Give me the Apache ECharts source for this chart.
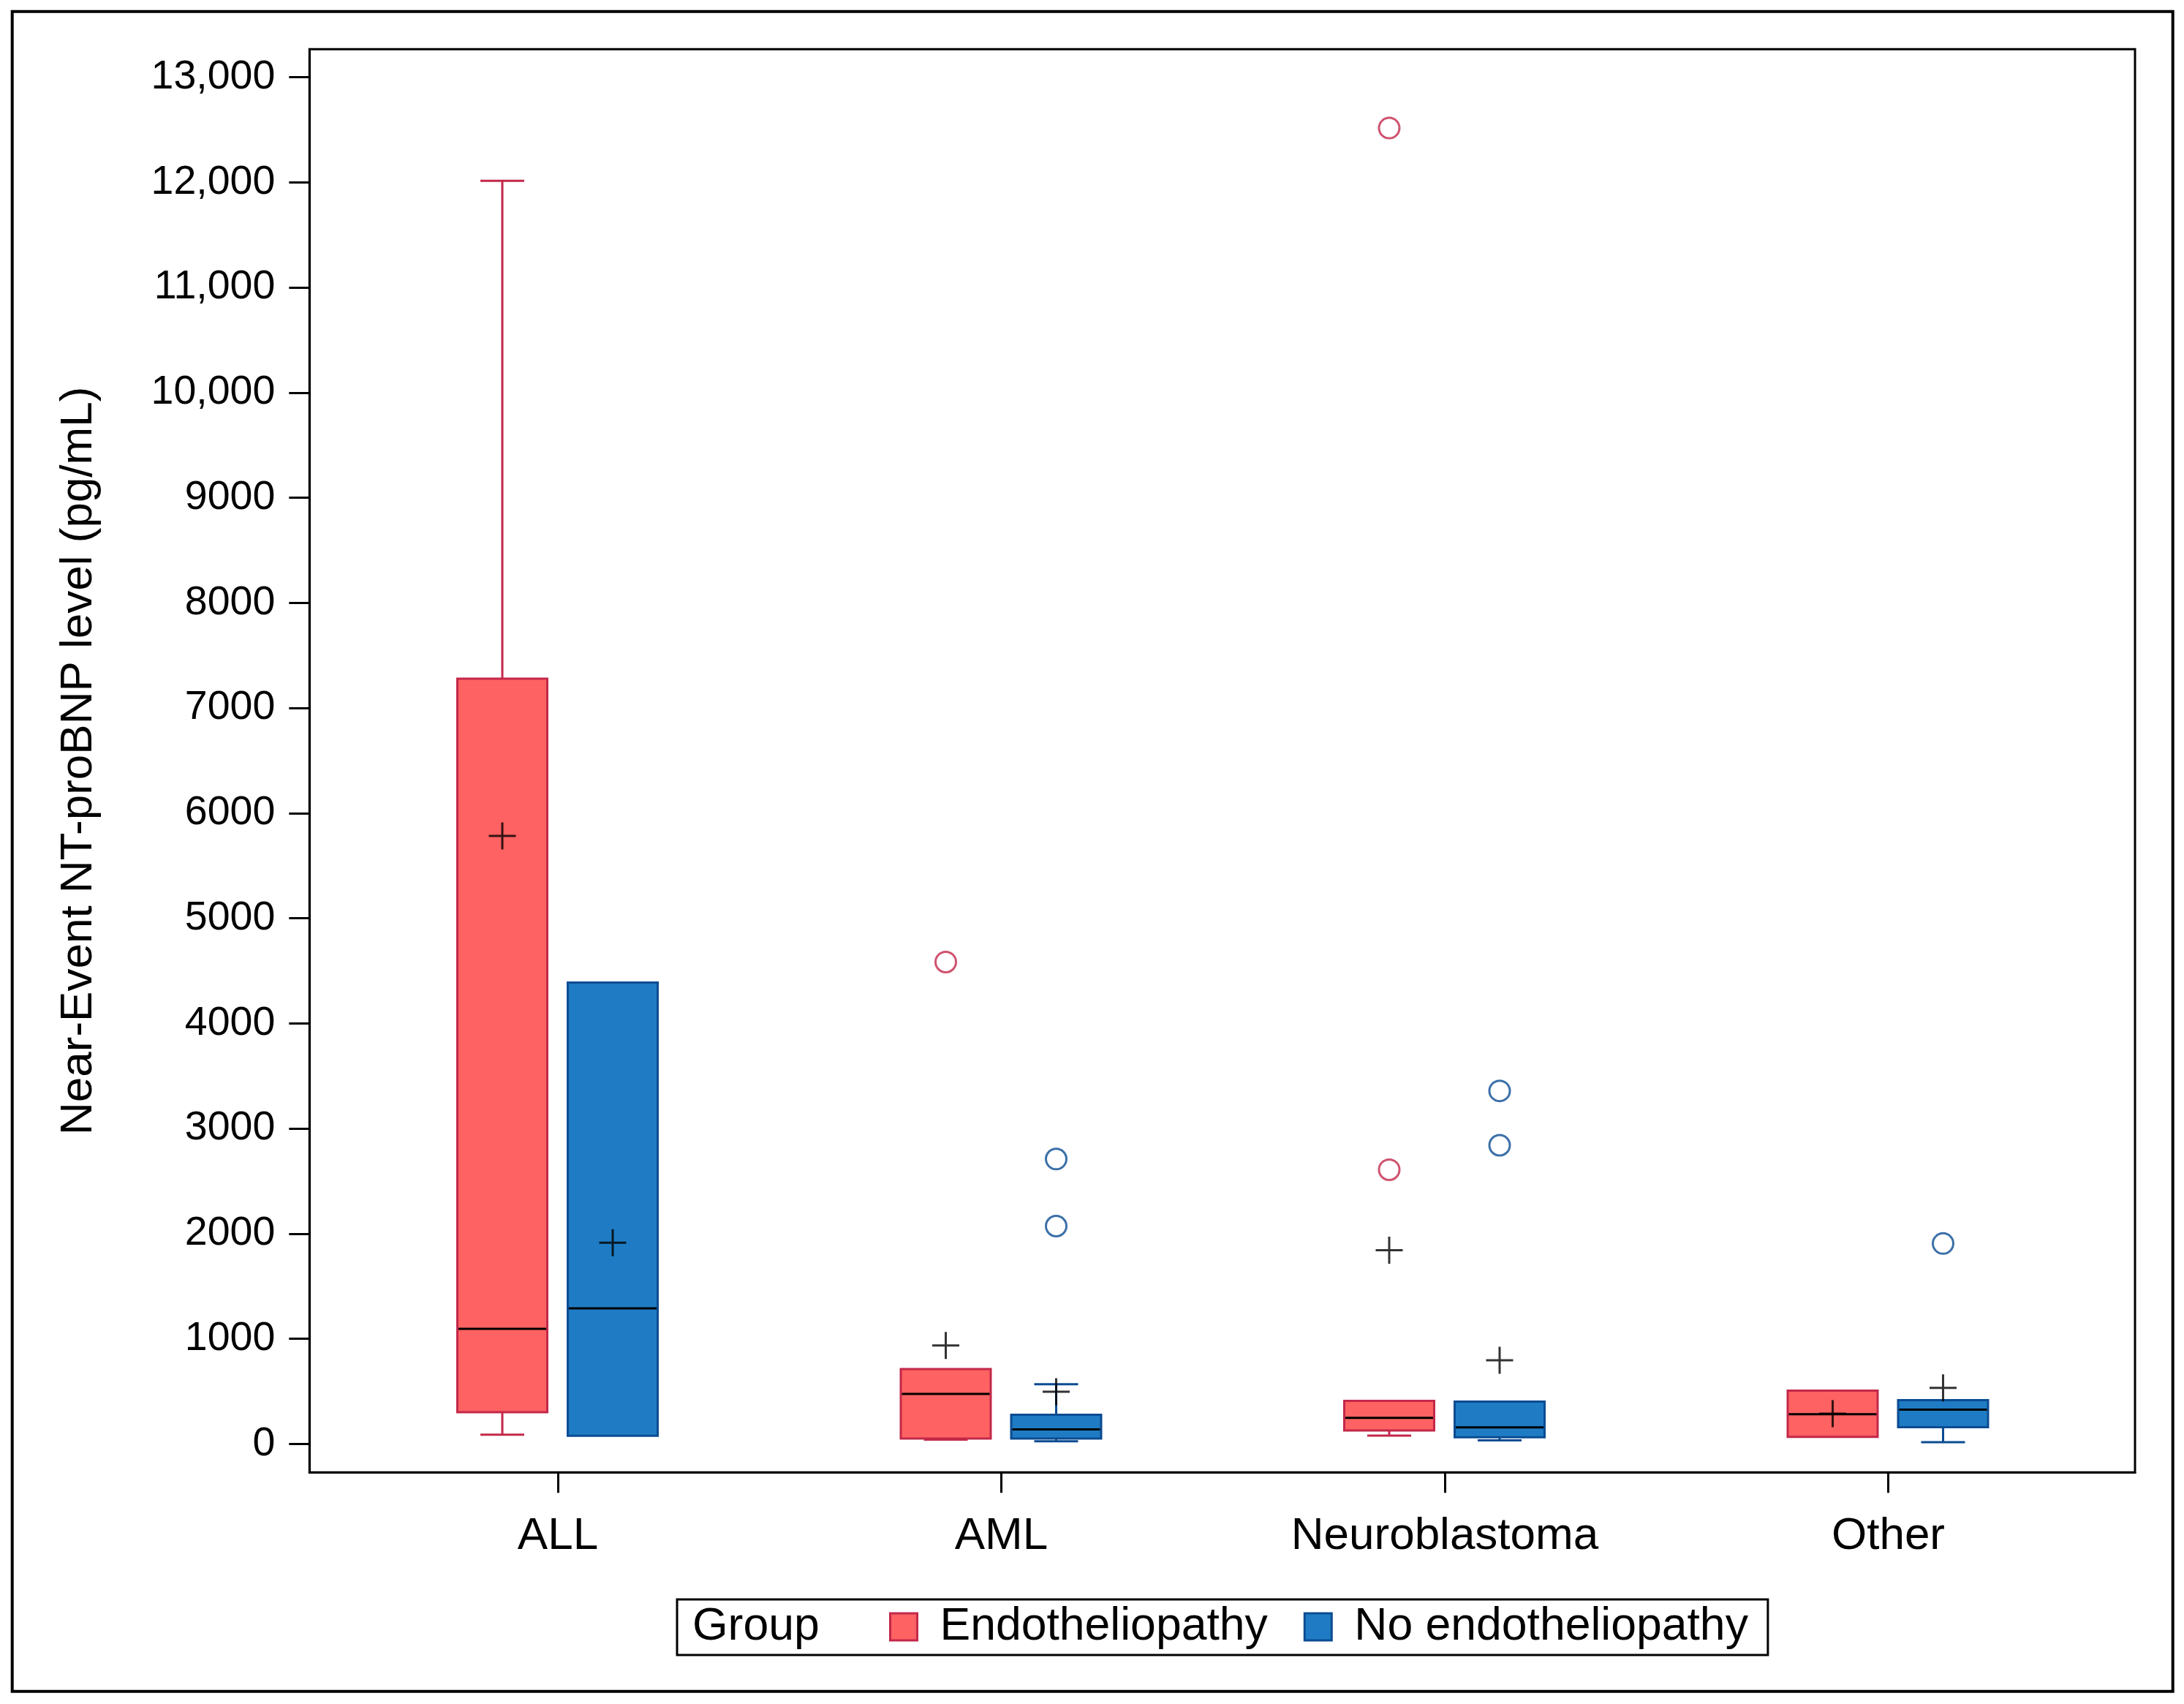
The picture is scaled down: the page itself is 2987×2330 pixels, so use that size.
<!DOCTYPE html>
<html>
<head>
<meta charset="utf-8">
<script src="https://cdn.jsdelivr.net/npm/echarts@6/dist/echarts.min.js"></script>
<style>
html,body{margin:0;padding:0;background:#ffffff;}
#chart{width:2987px;height:2330px;}
</style>
</head>
<body>
<div id="chart"></div>
<script>
// ---------------- data ----------------
const categories = ['ALL', 'AML', 'Neuroblastoma', 'Other'];
const groupNames = ['Endotheliopathy', 'No endotheliopathy'];
// box statistics per category: [min, Q1, median, Q3, max]
const endoStats = [
  [88, 301, 1094, 7279, 12015],
  [40, 51, 475, 712, 712],
  [79, 127, 247, 410, 410],
  [66, 66, 282, 506, 506]
];
const noEndoStats = [
  [77, 77, 1290, 4389, 4389],
  [25, 51, 138, 278, 568],
  [33, 63, 157, 402, 402],
  [16, 159, 326, 416, 416]
];
const endoMeans = [5783, 937, 1842, 287];
const noEndoMeans = [1913, 496, 795, 532];
// outliers: [category index, value]
const endoOutliers = [[1, 4584], [2, 12517], [2, 2608]];
const noEndoOutliers = [[1, 2710], [1, 2072], [2, 3358], [2, 2841], [3, 1906]];
const yTicks = [0, 1000, 2000, 3000, 4000, 5000, 6000, 7000, 8000, 9000, 10000, 11000, 12000, 13000];
const yTitle = 'Near-Event NT-proBNP level (pg/mL)';
const legendTitle = 'Group';

// ---------------- style / layout ----------------
const FONT = "'Liberation Sans', Arial, Helvetica, sans-serif";
const BOX_W = 123;
const CAP_W = 60;
const OFFSET_ENDO = -76;
const OFFSET_NOENDO = 75;
const RED_FILL = '#FF6262';
const RED_LINE = '#C3284A';
const BLUE_FILL = '#1F7CC4';
const BLUE_LINE = '#0B4C92';

function boxSeries(name, stats, offset, fill, line) {
  return {
    type: 'custom',
    name: name,
    data: stats.map(function (s, i) { return [i].concat(s); }),
    encode: { x: 0, y: [1, 2, 3, 4, 5] },
    itemStyle: { color: fill, borderColor: line, borderWidth: 3 },
    z: 3,
    renderItem: function (params, api) {
      const i = api.value(0);
      const pMin = api.coord([i, api.value(1)]);
      const pQ1 = api.coord([i, api.value(2)]);
      const pMed = api.coord([i, api.value(3)]);
      const pQ3 = api.coord([i, api.value(4)]);
      const pMax = api.coord([i, api.value(5)]);
      const cx = pMed[0] + offset;
      const hb = BOX_W / 2, hc = CAP_W / 2;
      const ls = { stroke: line, lineWidth: 3 };
      const children = [];
      if (pMax[1] < pQ3[1] - 0.5) {
        children.push({ type: 'line', shape: { x1: cx, y1: pQ3[1], x2: cx, y2: pMax[1] }, style: ls });
        children.push({ type: 'line', shape: { x1: cx - hc, y1: pMax[1], x2: cx + hc, y2: pMax[1] }, style: ls });
      }
      if (pMin[1] > pQ1[1] + 0.5) {
        children.push({ type: 'line', shape: { x1: cx, y1: pQ1[1], x2: cx, y2: pMin[1] }, style: ls });
        children.push({ type: 'line', shape: { x1: cx - hc, y1: pMin[1], x2: cx + hc, y2: pMin[1] }, style: ls });
      }
      children.push({
        type: 'rect',
        shape: { x: cx - hb, y: pQ3[1], width: BOX_W, height: pQ1[1] - pQ3[1] },
        style: { fill: fill, stroke: line, lineWidth: 3 }
      });
      children.push({
        type: 'line',
        shape: { x1: cx - hb + 1.5, y1: pMed[1], x2: cx + hb - 1.5, y2: pMed[1] },
        style: { stroke: '#000', lineWidth: 3 }
      });
      return { type: 'group', children: children };
    }
  };
}

function meanSeries(name, means, offset) {
  return {
    type: 'scatter',
    name: name,
    data: means.map(function (v, i) { return [i, v]; }),
    symbol: 'path://M18,0L18,36M0,18L36,18',
    symbolSize: 37,
    symbolOffset: [offset, 0],
    itemStyle: { color: 'none', borderColor: '#000', borderWidth: 3 },
    z: 5,
    emphasis: { disabled: true }
  };
}

function outlierSeries(name, pts, offset, line) {
  return {
    type: 'scatter',
    name: name,
    data: pts,
    symbol: 'circle',
    symbolSize: 28,
    symbolOffset: [offset, 0],
    itemStyle: { color: 'rgba(255,255,255,0)', borderColor: line, borderWidth: 3 },
    z: 5,
    emphasis: { disabled: true }
  };
}

const chart = echarts.init(document.getElementById('chart'), null, { renderer: 'canvas' });

const option = {
  animation: false,
  backgroundColor: '#ffffff',
  textStyle: { fontFamily: FONT },
  grid: {
    left: 423.3, top: 67.3, width: 2496.7, height: 1946,
    show: true, borderColor: '#000', borderWidth: 3,
    containLabel: false, outerBoundsMode: 'none'
  },
  xAxis: {
    type: 'value',
    min: -0.5601, max: 3.5565,
    axisLine: { show: true, onZero: false, lineStyle: { color: '#000', width: 3 } },
    axisTick: { show: true, customValues: [0, 1, 2, 3], length: 28, lineStyle: { color: '#000', width: 3 } },
    axisLabel: {
      customValues: [0, 1, 2, 3],
      formatter: function (v) { return categories[Math.round(v)]; },
      fontSize: 62, color: '#000', fontFamily: FONT, margin: 57
    },
    splitLine: { show: false }
  },
  yAxis: {
    type: 'value',
    min: -271, max: 13267,
    name: yTitle,
    nameLocation: 'middle',
    nameGap: 284,
    nameTextStyle: { fontSize: 62, color: '#000', fontFamily: FONT },
    axisLine: { show: true, onZero: false, lineStyle: { color: '#000', width: 3 } },
    axisTick: { show: true, customValues: yTicks, length: 28, lineStyle: { color: '#000', width: 3 } },
    axisLabel: {
      customValues: yTicks,
      formatter: function (v) { return v >= 10000 ? v.toLocaleString('en-US') : String(v); },
      fontSize: 55.5, color: '#000', fontFamily: FONT, margin: 47
    },
    splitLine: { show: false }
  },
  legend: {
    show: true,
    left: 926, top: 2187,
    orient: 'horizontal',
    padding: [6, 27, 7, 290],
    borderColor: '#000', borderWidth: 3,
    itemWidth: 37, itemHeight: 37, itemGap: 49,
    selectedMode: true,
    textStyle: { fontSize: 62.5, color: '#000', fontFamily: FONT, padding: [0, 0, 0, 26] },
    data: [
      { name: groupNames[0], icon: 'rect', itemStyle: { color: RED_FILL, borderColor: RED_LINE, borderWidth: 3 } },
      { name: groupNames[1], icon: 'rect', itemStyle: { color: BLUE_FILL, borderColor: BLUE_LINE, borderWidth: 3 } }
    ]
  },
  graphic: [
    {
      type: 'rect', silent: true,
      shape: { x: 16.7, y: 15.7, width: 2955, height: 2297 },
      style: { fill: 'none', stroke: '#000', lineWidth: 4 }
    },
    {
      type: 'text', silent: true,
      x: 947, y: 2225,
      style: { text: legendTitle, fontSize: 62.5, fontFamily: FONT, fill: '#000', verticalAlign: 'middle', align: 'left' }
    }
  ],
  series: [
    boxSeries(groupNames[0], endoStats, OFFSET_ENDO, RED_FILL, RED_LINE),
    boxSeries(groupNames[1], noEndoStats, OFFSET_NOENDO, BLUE_FILL, BLUE_LINE),
    outlierSeries(groupNames[0], endoOutliers, OFFSET_ENDO, RED_LINE),
    outlierSeries(groupNames[1], noEndoOutliers, OFFSET_NOENDO, BLUE_LINE),
    meanSeries(groupNames[0], endoMeans, OFFSET_ENDO),
    meanSeries(groupNames[1], noEndoMeans, OFFSET_NOENDO)
  ]
};

chart.setOption(option);
</script>
</body>
</html>
